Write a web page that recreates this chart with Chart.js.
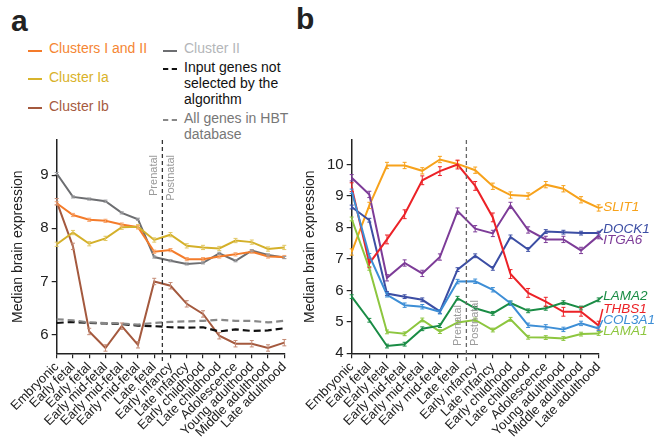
<!DOCTYPE html>
<html>
<head>
<meta charset="utf-8">
<script src="https://cdn.jsdelivr.net/npm/chart.js@4.4.1/dist/chart.umd.min.js"></script>
<style>
  html,body{margin:0;padding:0;background:#fff;}
  body{width:654px;height:443px;position:relative;overflow:hidden;font-family:"Liberation Sans",Arial,sans-serif;}
  canvas{position:absolute;top:0;}
  .t{position:absolute;font-size:14px;line-height:16px;white-space:nowrap;}
  .d{position:absolute;height:0;width:14px;}
  .pl{position:absolute;font-weight:bold;font-size:30px;color:#222;font-family:"Liberation Sans",Arial,sans-serif;}
</style>
</head>
<body>
<div class="pl" style="left:11px;top:4px;">a</div>
<div class="pl" style="left:296px;top:2px;">b</div>

<div class="d" style="left:28px;top:50px;border-top:2px solid #F47B2A;"></div>
<div class="t" style="left:49px;top:40px;color:#F58634;">Clusters I and II</div>
<div class="d" style="left:28px;top:78px;border-top:2px solid #D8B42C;"></div>
<div class="t" style="left:49px;top:69px;color:#D9B22A;">Cluster Ia</div>
<div class="d" style="left:28px;top:107px;border-top:2px solid #A4593E;"></div>
<div class="t" style="left:49px;top:98px;color:#A65A3F;">Cluster Ib</div>

<div class="d" style="left:163px;top:50px;border-top:2px solid #6D6E71;"></div>
<div class="t" style="left:184px;top:40px;color:#B4B6B9;">Cluster II</div>
<div class="d" style="left:163px;top:68px;border-top:2px dashed #111;"></div>
<div class="t" style="left:184px;top:59px;color:#111;">Input genes not<br>selected by the<br>algorithm</div>
<div class="d" style="left:163px;top:119px;border-top:2px dashed #888;"></div>
<div class="t" style="left:184px;top:110px;color:#777;">All genes in HBT<br>database</div>

<canvas id="ca" width="290" height="443" style="left:0;"></canvas>
<canvas id="cb" width="364" height="443" style="left:290px;"></canvas>

<script>
// ---------- DATA ----------
const categories = ["Embryonic","Early fetal","Early fetal","Early mid-fetal","Early mid-fetal","Early mid-fetal","Late fetal","Early infancy","Late infancy","Early childhood","Late childhood","Adolescence","Young adulthood","Middle adulthood","Late adulthood"];

// panel a
const clustersIandII = [8.47, 8.25, 8.16, 8.14, 8.07, 8.02, 7.56, 7.59, 7.42, 7.42, 7.47, 7.51, 7.56, 7.47, 7.46];
const clusterIa      = [7.70, 7.92, 7.71, 7.81, 8.02, 8.03, 7.78, 7.88, 7.67, 7.64, 7.62, 7.77, 7.74, 7.61, 7.64];
const clusterIb      = [8.50, 7.66, 6.06, 5.75, 6.16, 5.81, 7.00, 6.92, 6.58, 6.39, 5.98, 5.83, 5.83, 5.75, 5.85];
const clusterII      = [9.03, 8.59, 8.55, 8.51, 8.29, 8.17, 7.46, 7.39, 7.33, 7.35, 7.53, 7.39, 7.58, 7.50, 7.45];
const inputGenesNotSelected = [6.22, 6.24, 6.22, 6.21, 6.20, 6.17, 6.16, 6.14, 6.13, 6.14, 6.06, 6.10, 6.07, 6.08, 6.12];
const allGenesHBT    = [6.29, 6.27, 6.23, 6.22, 6.21, 6.19, 6.22, 6.24, 6.25, 6.26, 6.28, 6.26, 6.26, 6.23, 6.26];
const errorsA = [0.03, 0.04, 0.06, 0.02]; // I and II, Ia, Ib, II
const yTicksA = [6, 7, 8, 9];

// panel b
const SLIT1  = [7.22, 8.70, 9.97, 9.97, 9.80, 10.16, 10.02, 9.82, 9.31, 9.03, 9.00, 9.36, 9.23, 8.88, 8.62];
const DOCK1  = [8.65, 8.23, 5.90, 5.80, 5.70, 5.33, 6.66, 7.10, 6.70, 7.70, 7.30, 7.87, 7.85, 7.82, 7.82];
const ITGA6  = [9.58, 9.05, 6.40, 6.87, 6.54, 7.06, 8.52, 7.96, 7.81, 8.70, 7.92, 7.62, 7.62, 7.27, 7.74];
const LAMA2  = [5.80, 5.05, 4.23, 4.29, 4.78, 4.88, 5.75, 5.43, 5.27, 5.60, 5.35, 5.43, 5.61, 5.44, 5.70];
const THBS1  = [9.28, 6.86, 7.62, 8.42, 9.50, 9.79, 10.00, 9.32, 8.32, 6.52, 5.92, 5.64, 5.32, 5.32, 4.88];
const COL3A1 = [9.15, 7.10, 5.86, 5.53, 5.48, 5.32, 6.28, 6.29, 6.02, 5.59, 4.89, 4.84, 4.76, 4.95, 4.79];
const LAMA1  = [8.27, 6.70, 4.68, 4.62, 5.06, 4.69, 4.98, 5.06, 4.74, 5.08, 4.51, 4.50, 4.47, 4.61, 4.63];
const geneNames = ["SLIT1","DOCK1","ITGA6","LAMA2","THBS1","COL3A1","LAMA1"];
const errorsB = [0.1, 0.06, 0.1, 0.06, 0.14, 0.07, 0.06];
const yTicksB = [4, 5, 6, 7, 8, 9, 10];

// ---------- STYLE / LAYOUT ----------
const FONT = '"Liberation Sans", Arial, sans-serif';
const labelYB = [207, 229, 240, 296, 309, 320, 331]; // pixel y of gene labels (layout)
const geneColors = ["#F7A21B","#3C4EA4","#7D3C98","#1A8C45","#EC2227","#3D8ED6","#8DC63F"];

Chart.defaults.font.family = FONT;
Chart.defaults.animation = false;

function fixScales(w, h){
  return {
    x: function(s){ s.height = h; s.paddingLeft = 0; s.paddingRight = 0; s.paddingTop = 0; s.paddingBottom = 0; },
    y: function(s){ s.width = w; s.paddingLeft = 0; s.paddingRight = 0; s.paddingTop = 0; s.paddingBottom = 0; }
  };
}

const errorBarPlugin = {
  id: 'errbars',
  afterDatasetsDraw(chart){
    const ctx = chart.ctx, y = chart.scales.y;
    chart.data.datasets.forEach((ds, di) => {
      if (!ds.err) return;
      const meta = chart.getDatasetMeta(di);
      ctx.save();
      ctx.strokeStyle = ds.errColor || ds.borderColor;
      ctx.lineWidth = 1;
      meta.data.forEach((pt, i) => {
        const v = ds.data[i];
        const y1 = y.getPixelForValue(v - ds.err), y2 = y.getPixelForValue(v + ds.err);
        ctx.beginPath();
        ctx.moveTo(pt.x, y1); ctx.lineTo(pt.x, y2);
        ctx.moveTo(pt.x - 2, y1); ctx.lineTo(pt.x + 2, y1);
        ctx.moveTo(pt.x - 2, y2); ctx.lineTo(pt.x + 2, y2);
        ctx.stroke();
      });
      ctx.restore();
    });
  }
};

function birthLinePlugin(cfg){
  return {
    id: 'birth',
    afterDatasetsDraw(chart){
      const ctx = chart.ctx, x = chart.scales.x, ca = chart.chartArea;
      const px = (x.getPixelForValue(6) + x.getPixelForValue(7)) / 2;
      ctx.save();
      ctx.strokeStyle = cfg.color; ctx.lineWidth = 1.3; ctx.setLineDash([4, 3]);
      ctx.beginPath(); ctx.moveTo(px, ca.top); ctx.lineTo(px, ca.bottom + 9); ctx.stroke();
      ctx.setLineDash([]);
      ctx.fillStyle = '#9a9a9a'; ctx.font = '11px ' + FONT; ctx.textBaseline = 'middle';
      [['Prenatal', -8.5], ['Postnatal', 8.5]].forEach(([t, dx]) => {
        ctx.save();
        ctx.translate(px + dx, cfg.y);
        ctx.rotate(-Math.PI / 2);
        ctx.textAlign = cfg.align;
        ctx.fillText(t, 0, 0);
        ctx.restore();
      });
      ctx.restore();
    }
  };
}

const geneLabelPlugin = {
  id: 'geneLabels',
  afterDatasetsDraw(chart){
    const ctx = chart.ctx, ca = chart.chartArea, y = chart.scales.y;
    ctx.save();
    ctx.font = 'italic 13.5px ' + FONT;
    ctx.textBaseline = 'middle';
    chart.data.datasets.forEach((ds, i) => {
      const ly = labelYB[i] - chart.canvas.offsetTop;
      const endY = y.getPixelForValue(ds.data[ds.data.length - 1]);
      ctx.strokeStyle = ds.borderColor; ctx.lineWidth = 1.5;
      ctx.beginPath(); ctx.moveTo(ca.right, endY); ctx.lineTo(ca.right + 4, ly); ctx.stroke();
      ctx.fillStyle = ds.borderColor;
      ctx.fillText(ds.label, ca.right + 4.5, ly);
    });
    ctx.restore();
  }
};

function axisOptions(min, max, ticks, yWidth, xHeight, titlePad){
  const f = fixScales(yWidth, xHeight);
  return {
    x: {
      type: 'category', offset: false,
      grid: { display: true, drawOnChartArea: false, drawTicks: true, tickLength: 5, color: '#222', lineWidth: 1.2, offset: false },
      border: { display: true, color: '#222', width: 1.5 },
      ticks: { autoSkip: false, maxRotation: 45, minRotation: 45, padding: 1, color: '#222', font: { size: 13, family: FONT } },
      afterFit: f.x
    },
    y: {
      type: 'linear', min: min, max: max,
      afterBuildTicks: (s) => { s.ticks = ticks.map(v => ({ value: v })); },
      grid: { display: true, drawOnChartArea: false, drawTicks: true, tickLength: 5, color: '#222', lineWidth: 1.2 },
      border: { display: true, color: '#222', width: 1.5 },
      ticks: { padding: 3, color: '#222', font: { size: 15, family: FONT } },
      title: { display: true, text: 'Median brain expression', color: '#222', font: { size: 14, family: FONT }, padding: { top: titlePad, bottom: 0 } },
      afterFit: f.y
    }
  };
}

function lineDs(label, data, color, extra){
  return Object.assign({ label, data, borderColor: color, backgroundColor: color, borderWidth: 2, pointRadius: 0, tension: 0, fill: false }, extra || {});
}

// ---------- PANEL A ----------
new Chart(document.getElementById('ca'), {
  type: 'line',
  data: {
    labels: categories,
    datasets: [
      lineDs('All genes in HBT database', allGenesHBT, '#888888', { borderDash: [7, 4], borderWidth: 2.2 }),
      lineDs('Input genes not selected by the algorithm', inputGenesNotSelected, '#111111', { borderDash: [7, 4], borderWidth: 2.2 }),
      lineDs('Cluster Ia', clusterIa, '#D4B02A', { err: errorsA[1], errColor: '#E2C865' }),
      lineDs('Clusters I and II', clustersIandII, '#F47B2A', { err: errorsA[0], errColor: '#F7A56E' }),
      lineDs('Cluster II', clusterII, '#6D6E71', { err: errorsA[3], errColor: '#9A9B9E' }),
      lineDs('Cluster Ib', clusterIb, '#A4593E', { err: errorsA[2], errColor: '#C48A74' })
    ]
  },
  options: {
    responsive: false,
    layout: { padding: { top: 140, left: 0, right: 5.7, bottom: 0 } },
    plugins: { legend: { display: false }, tooltip: { enabled: false } },
    scales: axisOptions(5.65, 9.66, yTicksA, 56.7, 89.7, 10)
  },
  plugins: [errorBarPlugin, birthLinePlugin({ color: '#333', y: 155, align: 'right' })]
});

// ---------- PANEL B ----------
const seriesB = [SLIT1, DOCK1, ITGA6, LAMA2, THBS1, COL3A1, LAMA1];
const orderB = [6, 3, 5, 1, 2, 0, 4];
new Chart(document.getElementById('cb'), {
  type: 'line',
  data: {
    labels: categories,
    datasets: seriesB.map((d, i) => lineDs(geneNames[i], d, geneColors[i], { err: errorsB[i], order: orderB[i] }))
  },
  options: {
    responsive: false,
    layout: { padding: { top: 140, left: 0, right: 55.3, bottom: 0 } },
    plugins: { legend: { display: false }, tooltip: { enabled: false } },
    scales: axisOptions(4, 10.78, yTicksB, 61.7, 89.7, 11.5)
  },
  plugins: [errorBarPlugin, birthLinePlugin({ color: '#666', y: 346, align: 'left' }), geneLabelPlugin]
});
</script>
</body>
</html>
